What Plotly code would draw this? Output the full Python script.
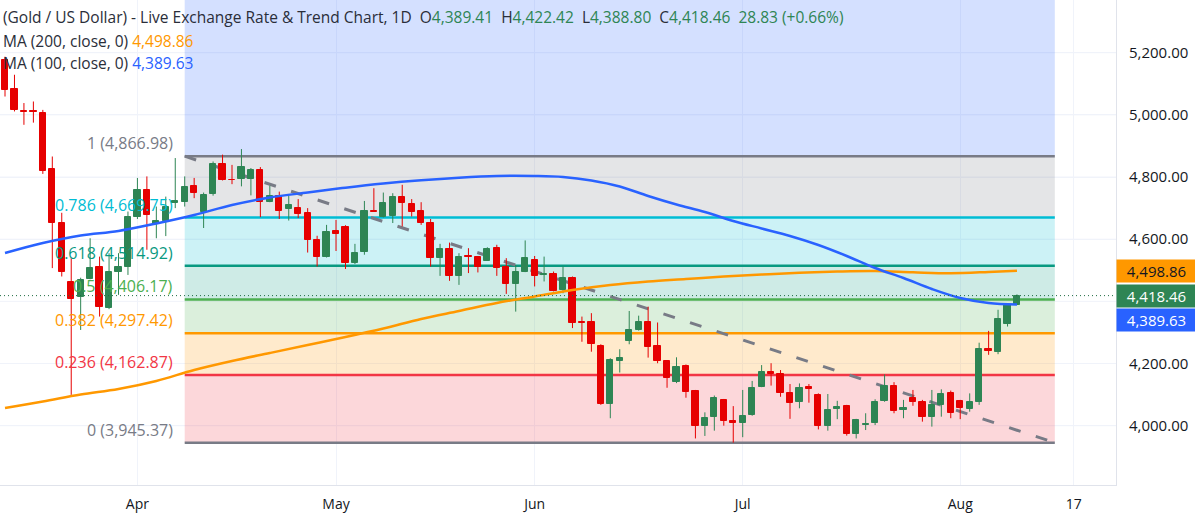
import plotly.graph_objects as go

# ---------------- data ----------------
opens = [5177, 5083, 5013, 5012, 5006, 4825, 4652, 4462, 4413, 4471,
         4510, 4378, 4493, 4512, 4673, 4757, 4650, 4657, 4718, 4721,
         4772, 4689, 4745, 4843, 4792, 4793, 4793, 4823, 4721, 4739,
         4698, 4700, 4684, 4598, 4544, 4627, 4639, 4525, 4560, 4692,
         4673, 4676, 4735, 4714, 4691, 4652, 4541, 4568, 4482, 4547,
         4542, 4531, 4571, 4510, 4456, 4496, 4533, 4485, 4488, 4437,
         4475, 4333, 4333, 4258, 4070, 4209, 4274, 4308, 4332, 4256,
         4208, 4142, 4193, 4112, 3999, 4029, 4083, 4016, 4008, 4034,
         4126, 4174, 4165, 4104, 4077, 4124, 4099, 3999, 4053, 4062,
         3973, 4003, 4010, 4080, 4129, 4052, 4090, 4075, 4027, 4067,
         4104, 4080, 4053, 4077, 4246, 4238, 4326, 4389.41]
highs = [5187, 5129, 5038, 5043, 5016, 4866, 4685, 4539, 4476, 4603,
         4544, 4555, 4555, 4689, 4797, 4802, 4705, 4737, 4861, 4802,
         4797, 4750, 4850, 4872, 4839, 4890, 4829, 4832, 4772, 4753,
         4739, 4729, 4700, 4611, 4646, 4662, 4645, 4585, 4723, 4764,
         4750, 4748, 4775, 4729, 4719, 4665, 4585, 4589, 4555, 4571,
         4546, 4574, 4582, 4539, 4517, 4596, 4546, 4544, 4496, 4512,
         4480, 4351, 4362, 4262, 4217, 4246, 4369, 4354, 4383, 4332,
         4211, 4220, 4197, 4115, 4043, 4097, 4086, 4063, 4115, 4144,
         4195, 4201, 4179, 4134, 4136, 4134, 4104, 4102, 4080, 4067,
         4022, 4040, 4085, 4165, 4140, 4083, 4115, 4083, 4115, 4117,
         4113, 4083, 4104, 4267, 4305, 4373, 4394, 4422.42]
lows = [5059, 5011, 4968, 4975, 4810, 4507, 4480, 4099, 4308, 4471,
        4351, 4375, 4421, 4485, 4665, 4566, 4603, 4610, 4700, 4705,
        4732, 4636, 4740, 4789, 4777, 4770, 4741, 4671, 4719, 4665,
        4660, 4668, 4557, 4512, 4541, 4562, 4504, 4520, 4550, 4688,
        4670, 4652, 4641, 4673, 4646, 4512, 4482, 4466, 4453, 4491,
        4493, 4530, 4482, 4424, 4367, 4494, 4448, 4464, 4432, 4426,
        4314, 4270, 4238, 4067, 4024, 4171, 4262, 4306, 4219, 4201,
        4122, 4137, 4090, 3959, 3967, 3984, 4000, 3945.37, 3963, 4032,
        4124, 4129, 4093, 4022, 4056, 4074, 3988, 3984, 4021, 3968,
        3959, 3986, 4002, 4077, 4040, 4024, 4064, 4013, 3997, 4029,
        4024, 4021, 4045, 4067, 4228, 4230, 4319, 4388.80]
closes = [5081, 5016, 5008, 5008, 4818, 4652, 4493, 4407, 4469, 4507,
          4381, 4496, 4512, 4673, 4759, 4678, 4660, 4705, 4722, 4769,
          4748, 4743, 4843, 4791, 4789, 4832, 4821, 4721, 4739, 4692,
          4710, 4682, 4596, 4544, 4623, 4616, 4523, 4557, 4691, 4689,
          4716, 4735, 4716, 4689, 4652, 4541, 4568, 4482, 4542, 4544,
          4510, 4568, 4507, 4456, 4496, 4539, 4483, 4489, 4434, 4475,
          4330, 4330, 4262, 4070, 4212, 4219, 4308, 4332, 4254, 4208,
          4155, 4190, 4109, 3999, 4026, 4088, 4016, 4010, 4031, 4120,
          4174, 4165, 4106, 4074, 4120, 4118, 3999, 4051, 4059, 3973,
          4018, 4007, 4077, 4129, 4048, 4056, 4077, 4027, 4067, 4101,
          4042, 4056, 4075, 4246, 4240, 4343, 4389.41, 4418.46]

ma100_bars = [0, 4, 8, 12, 16, 20, 24, 28, 32, 36, 40, 44, 48, 52, 56, 59,
              62, 65, 68, 71, 74, 77, 80, 83, 86, 89, 92, 95, 98, 101, 104, 107]
ma100 = [4555.6, 4587.8, 4612.0, 4626.4, 4650.5, 4677.9, 4710.0, 4734.2,
         4750.3, 4765.7, 4779.2, 4789.8, 4797.9, 4803.3, 4803.3, 4800.1,
         4788.9, 4769.6, 4739.0, 4711.6, 4687.5, 4658.6, 4634.4, 4610.3,
         4581.3, 4546.0, 4507.4, 4475.2, 4439.8, 4410.8, 4394.7, 4389.63]

ma200_bars = [0, 4, 8, 12, 16, 20, 24, 28, 32, 36, 40, 44, 48, 52, 56, 60,
              64, 68, 72, 76, 80, 84, 88, 92, 96, 100, 104, 107]
ma200 = [4057.0, 4077.9, 4100.4, 4118.1, 4143.8, 4179.2, 4208.2, 4233.9,
         4259.6, 4285.4, 4312.7, 4343.3, 4369.0, 4394.8, 4415.7, 4436.6,
         4452.7, 4463.9, 4472.0, 4480.0, 4486.4, 4492.2, 4496.1, 4497.7,
         4493.5, 4490.3, 4494.5, 4498.86]

fib_ratios = ["1", "0.786", "0.618", "0.5", "0.382", "0.236", "0"]
fib_values = [4866.98, 4669.75, 4514.92, 4406.17, 4297.42, 4162.87, 3945.37]
fib_start_bar = 19
fib_end_bar = 111

tick_bars = [14, 35, 56, 78, 101, 113]
tick_labels = ["Apr", "May", "Jun", "Jul", "Aug", "17"]
price_grid = [4000, 4200, 4400, 4600, 4800, 5000, 5200]
price_labels_shown = [4000, 4200, 4600, 4800, 5000, 5200]   # 4,400 sits under the price tags

last_open, last_high, last_low, last_close = 4389.41, 4422.42, 4388.80, 4418.46
change, change_pct = 28.83, 0.66

# ---------------- styles ----------------
UP = "#2e8554"
DOWN = "#e60000"
BLUE = "#2962ff"
ORANGE = "#ff9800"
FONT = "Open Sans"
TXT = "#2a2e39"
GRID = "#f0f3fa"
fib_line_colors = ["#787b86", "#00bcd4", "#089981", "#4caf50", "#ff9800", "#f23645", "#787b86"]
fib_fill_colors = ["rgba(120,123,134,0.2)", "rgba(0,188,212,0.2)", "rgba(8,153,129,0.2)",
                   "rgba(76,175,80,0.2)", "rgba(255,152,0,0.2)", "rgba(242,54,69,0.2)"]
top_fill = "rgba(41,98,255,0.2)"
PLOT_H = 485

fig = go.Figure()

# ---------------- candles ----------------
up_x, up_base, up_len = [], [], []
dn_x, dn_base, dn_len = [], [], []
up_wx, up_wy, dn_wx, dn_wy = [], [], [], []
for i, (o, h, l, c) in enumerate(zip(opens, highs, lows, closes)):
    body = max(abs(c - o), 1.5)
    if c >= o:
        up_x.append(i); up_base.append(min(o, c)); up_len.append(body)
        up_wx += [i, i, None]; up_wy += [l, h, None]
    else:
        dn_x.append(i); dn_base.append(min(o, c)); dn_len.append(body)
        dn_wx += [i, i, None]; dn_wy += [l, h, None]

fig.add_trace(go.Scatter(x=up_wx, y=up_wy, mode="lines", line=dict(color=UP, width=1),
                         hoverinfo="skip"))
fig.add_trace(go.Scatter(x=dn_wx, y=dn_wy, mode="lines", line=dict(color=DOWN, width=1),
                         hoverinfo="skip"))
fig.add_trace(go.Bar(x=up_x, y=up_len, base=up_base, width=0.66,
                     marker=dict(color=UP, line=dict(color=UP, width=1))))
fig.add_trace(go.Bar(x=dn_x, y=dn_len, base=dn_base, width=0.66,
                     marker=dict(color=DOWN, line=dict(color=DOWN, width=1))))

# ---------------- moving averages ----------------
fig.add_trace(go.Scatter(x=ma200_bars, y=ma200, mode="lines",
                         line=dict(color=ORANGE, width=2.5, shape="spline"), hoverinfo="skip"))
fig.add_trace(go.Scatter(x=ma100_bars, y=ma100, mode="lines",
                         line=dict(color=BLUE, width=2.5, shape="spline"), hoverinfo="skip"))

# ---------------- grid + fibonacci retracement ----------------
shapes = []
for p in price_grid:
    shapes.append(dict(type="line", xref="paper", yref="y", x0=0, x1=1, y0=p, y1=p,
                       line=dict(color=GRID, width=1), layer="below"))
shapes.append(dict(type="rect", xref="x", yref="y", x0=fib_start_bar, x1=fib_end_bar,
                   y0=fib_values[0], y1=6000, fillcolor=top_fill, line=dict(width=0), layer="between"))
for k in range(len(fib_values) - 1):
    shapes.append(dict(type="rect", xref="x", yref="y", x0=fib_start_bar, x1=fib_end_bar,
                       y0=fib_values[k + 1], y1=fib_values[k], fillcolor=fib_fill_colors[k],
                       line=dict(width=0), layer="between"))
for k, v in enumerate(fib_values):
    shapes.append(dict(type="line", xref="x", yref="y", x0=fib_start_bar, x1=fib_end_bar,
                       y0=v, y1=v, line=dict(color=fib_line_colors[k], width=2.5), layer="between"))
shapes.append(dict(type="line", xref="x", yref="y", x0=fib_start_bar, x1=fib_end_bar,
                   y0=fib_values[0], y1=fib_values[-1],
                   line=dict(color="#787b86", width=3, dash="12px,16px"), layer="between"))
shapes.append(dict(type="line", xref="paper", yref="y", x0=0, x1=1, y0=last_close, y1=last_close,
                   line=dict(color="#1e6b40", width=1, dash="1px,3px"), layer="above"))

annotations = []
for k, v in enumerate(fib_values):
    annotations.append(dict(x=fib_start_bar - 1.0, y=v, xref="x", yref="y", xanchor="right",
                            yanchor="middle", yshift=13, showarrow=False,
                            text=f"{fib_ratios[k]} ({v:,.2f})",
                            font=dict(family=FONT, size=16, color=fib_line_colors[k])))

# ---------------- header legend ----------------
def g(s):
    return f"<span style='color:{UP}'>{s}</span>"

nb = "\u00a0"
hdr = (f"(Gold / US Dollar) - Live Exchange Rate &amp; Trend Chart, 1D{nb}{nb}"
       f"O{g(f'{last_open:,.2f}')}{nb}{nb}H{g(f'{last_high:,.2f}')}{nb}{nb}"
       f"L{g(f'{last_low:,.2f}')}{nb}{nb}C{g(f'{last_close:,.2f}')}{nb}{nb}"
       f"{g(f'{change:.2f} (+{change_pct:.2f}%)')}")
for ypx, txt in [(17, hdr),
                 (41, f"MA (200, close, 0){nb}<span style='color:{ORANGE}'>{ma200[-1]:,.2f}</span>"),
                 (63, f"MA (100, close, 0){nb}<span style='color:{BLUE}'>{ma100[-1]:,.2f}</span>")]:
    annotations.append(dict(x=0.001, y=1 - ypx / PLOT_H, xref="paper", yref="paper", xanchor="left",
                            yanchor="middle", showarrow=False, text=txt,
                            font=dict(family=FONT, size=15.5, color=TXT)))

# ---------------- price tags on the axis ----------------
tags = [(ma200[-1], ORANGE, "#131722", 0), (last_close, UP, "white", 0), (ma100[-1], BLUE, "white", -15)]
for val, bg, fc, ys in tags:
    annotations.append(dict(x=1, y=val, xref="paper", yref="y", xanchor="left", yanchor="middle",
                            yshift=ys, showarrow=False, text=f"{val:,.2f}", bgcolor=bg,
                            width=75, height=18, borderpad=2, align="center",
                            font=dict(family=FONT, size=15, color=fc)))

fig.update_layout(
    width=1195, height=525,
    margin=dict(l=0, r=79, t=0, b=40, autoexpand=False),
    paper_bgcolor="white", plot_bgcolor="white",
    showlegend=False, barmode="overlay", bargap=0,
    shapes=shapes, annotations=annotations,
    xaxis=dict(range=[-0.53, 117.47], tickmode="array", tickvals=tick_bars, ticktext=tick_labels,
               showgrid=True, gridcolor=GRID, gridwidth=1, zeroline=False,
               showline=True, linecolor="#e0e3eb", ticks="", ticklabelstandoff=6,
               tickfont=dict(family=FONT, size=14, color="#131722"), fixedrange=True),
    yaxis=dict(side="right", range=[3809.2, 5369.5], tickmode="array",
               tickvals=price_labels_shown, ticktext=[f"{v:,.2f}" for v in price_labels_shown],
               showgrid=True, gridcolor=GRID, gridwidth=1, zeroline=False,
               showline=True, linecolor="#e0e3eb", ticks="", ticklabelstandoff=9,
               tickfont=dict(family=FONT, size=15, color="#131722"), fixedrange=True),
)

fig.write_html("out.html", config={"displayModeBar": False},
               post_script="document.body.style.margin='0';")
